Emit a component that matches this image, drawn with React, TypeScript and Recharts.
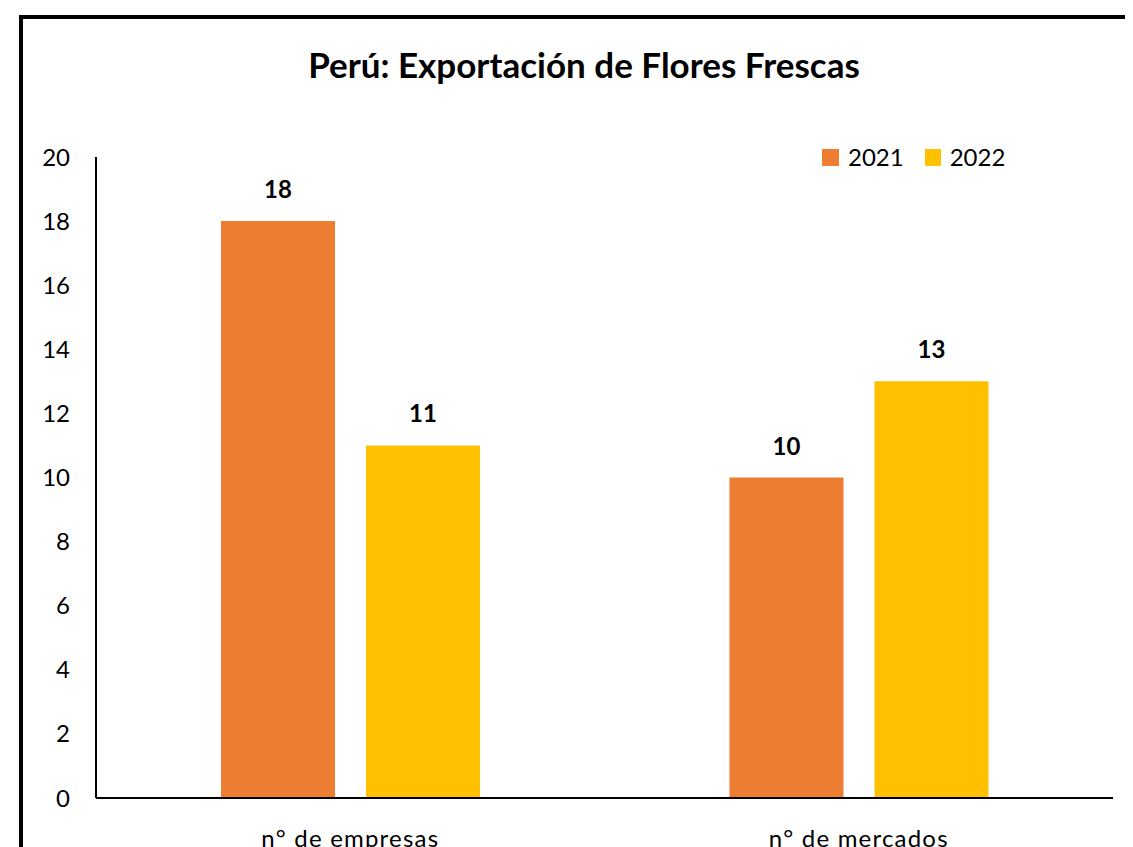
import React from "react";
import { BarChart, Bar, XAxis, YAxis, Legend, LabelList } from "recharts";

const categories = ["n° de empresas", "n° de mercados"];
const values2021 = [18, 10];
const values2022 = [11, 13];
const yTicks = [0, 2, 4, 6, 8, 10, 12, 14, 16, 18, 20];

const FONT = "Lato, 'Open Sans', sans-serif";
const ORANGE = "#ED7D31";
const YELLOW = "#FFC000";

const data = categories.map((name, i) => ({
  name,
  y2021: values2021[i],
  y2022: values2022[i],
}));

// simple horizontal legend, placed top right like the original
const renderLegend = () => (
  <div style={{ display: "flex", alignItems: "center", fontFamily: FONT, fontSize: 24, color: "#000", lineHeight: "24px" }}>
    <span style={{ width: 17, height: 17, background: ORANGE, display: "inline-block", marginRight: 9 }} />
    <span style={{ marginRight: 21 }}>2021</span>
    <span style={{ width: 16, height: 17, background: YELLOW, display: "inline-block", marginRight: 9 }} />
    <span>2022</span>
  </div>
);

const App = () => {
  return (
    <div style={{ position: "relative", width: 1125, height: 839, overflow: "hidden", background: "#fff" }}>
      <div
        style={{
          position: "absolute",
          left: 11,
          top: 7,
          width: 1300,
          height: 1000,
          border: "4px solid #000",
          boxSizing: "border-box",
        }}
      />
      <div
        style={{
          position: "absolute",
          left: 0,
          width: 1152,
          top: 35,
          textAlign: "center",
          fontFamily: FONT,
          fontWeight: 700,
          fontSize: 35,
          color: "#000",
        }}
      >
        Perú: Exportación de Flores Frescas
      </div>
      <div style={{ position: "absolute", left: 0, top: 0 }}>
        <BarChart
          width={1125}
          height={839}
          data={data}
          margin={{ top: 149, right: 20, bottom: 19, left: 28 }}
          barCategoryGap="24.5%"
          barGap={31}
        >
          <XAxis
            dataKey="name"
            axisLine={{ stroke: "#000", strokeWidth: 2 }}
            tickLine={false}
            tickSize={0}
            tickMargin={32}
            height={30}
            tick={{ fill: "#000", fontSize: 24, fontFamily: FONT, letterSpacing: 1.2 }}
          />
          <YAxis
            domain={[0, 20]}
            ticks={yTicks}
            width={60}
            axisLine={{ stroke: "#000", strokeWidth: 2 }}
            tickLine={false}
            tickSize={0}
            tickMargin={26}
            tick={{ fill: "#000", fontSize: 24, fontFamily: FONT }}
          />
          <Legend
            layout="horizontal"
            verticalAlign="middle"
            align="center"
            content={renderLegend}
            wrapperStyle={{ top: 137, left: 814, width: 220, height: 24 }}
          />
          <Bar dataKey="y2021" name="2021" fill={ORANGE} barSize={114} isAnimationActive={false}>
            <LabelList
              dataKey="y2021"
              position="top"
              offset={23}
              style={{ fill: "#000", fontSize: 24, fontWeight: 700, fontFamily: FONT }}
            />
          </Bar>
          <Bar dataKey="y2022" name="2022" fill={YELLOW} barSize={114} isAnimationActive={false}>
            <LabelList
              dataKey="y2022"
              position="top"
              offset={23}
              style={{ fill: "#000", fontSize: 24, fontWeight: 700, fontFamily: FONT }}
            />
          </Bar>
        </BarChart>
      </div>
    </div>
  );
};

export default App;
